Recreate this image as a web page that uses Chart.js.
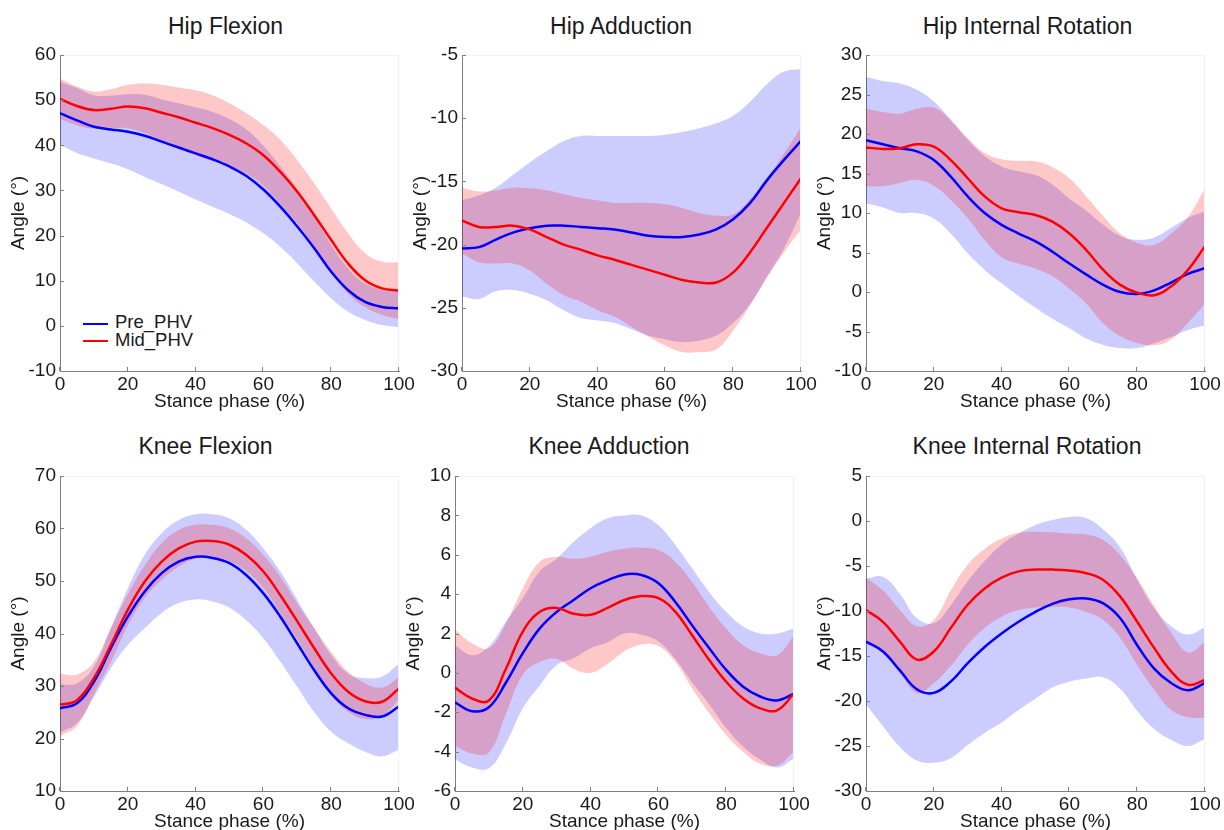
<!DOCTYPE html>
<html>
<head>
<meta charset="utf-8">
<script src="https://cdn.jsdelivr.net/npm/chart.js@4"></script>
<style>
  body { margin: 0; background: #fff; width: 1224px; height: 830px; overflow: hidden; position: relative;
         font-family: 'Liberation Sans', Arial, sans-serif; color: #1a1a1a; }
  canvas { position: absolute; }
  .ttl { position: absolute; font-size: 23px; line-height: 23px; white-space: nowrap; transform: translateX(-50%); }
  .leg { position: absolute; font-size: 18.5px; line-height: 18.5px; white-space: nowrap; }
  .legline { position: absolute; width: 25px; height: 2px; }
</style>
</head>
<body>
<div class="leg" style="left:115px;top:312.6px">Pre_PHV</div>
<div class="leg" style="left:115px;top:331.1px">Mid_PHV</div>
<div class="legline" style="left:83px;top:322.5px;background:#0000ff"></div>
<div class="legline" style="left:83px;top:339.5px;background:#ff0000"></div>
<script>
// stance phase samples (%)
const stance = [0, 5, 10, 15, 20, 25, 30, 35, 40, 45, 50, 55, 60, 65, 70, 75, 80, 85, 90, 95, 100];
const groups = ['Pre_PHV', 'Mid_PHV'];

const titles = ['Hip Flexion', 'Hip Adduction', 'Hip Internal Rotation',
                'Knee Flexion', 'Knee Adduction', 'Knee Internal Rotation'];

// y tick labels per panel
const hipFlexTicks = [-10, 0, 10, 20, 30, 40, 50, 60];
const hipAddTicks = [-30, -25, -20, -15, -10, -5];
const hipRotTicks = [-10, -5, 0, 5, 10, 15, 20, 25, 30];
const kneeFlexTicks = [10, 20, 30, 40, 50, 60, 70];
const kneeAddTicks = [-6, -4, -2, 0, 2, 4, 6, 8, 10];
const kneeRotTicks = [-30, -25, -20, -15, -10, -5, 0, 5];
const xTicks = [0, 20, 40, 60, 80, 100];

// Hip Flexion (mean, SD)
const hipFlexPreMean = [47.1, 45.5, 44.1, 43.5, 43.0, 42.1, 40.8, 39.5, 38.2, 36.9, 35.3, 33.2, 30.2, 26.4, 22.0, 17.2, 12.0, 7.9, 5.3, 4.2, 3.9];
const hipFlexPreSD   = [7.0, 7.2, 7.0, 7.5, 8.3, 9.1, 9.4, 9.8, 10.2, 10.5, 10.5, 10.3, 9.7, 8.9, 8.2, 7.4, 5.9, 4.8, 4.0, 4.0, 4.2];
const hipFlexMidMean = [50.3, 48.7, 47.8, 48.1, 48.6, 48.2, 47.2, 46.2, 45.0, 43.8, 42.3, 40.4, 37.8, 34.1, 29.7, 24.5, 19.0, 13.8, 10.1, 8.3, 7.8];
const hipFlexMidSD   = [4.5, 4.3, 4.1, 4.3, 4.8, 5.5, 6.2, 6.6, 7.2, 7.3, 7.0, 6.7, 6.7, 7.1, 7.0, 7.1, 7.0, 6.7, 6.0, 5.9, 6.3];

// Hip Adduction
const hipAddPreMean = [-20.3, -20.2, -19.6, -19.05, -18.7, -18.5, -18.5, -18.6, -18.7, -18.8, -19.05, -19.3, -19.4, -19.4, -19.2, -18.8, -18.0, -16.7, -14.9, -13.3, -11.8];
const hipAddPreSD   = [3.8, 4.1, 4.1, 4.55, 5.2, 5.9, 6.7, 7.2, 7.3, 7.4, 7.65, 7.9, 8.1, 8.3, 8.4, 8.4, 8.2, 8.0, 7.6, 7.0, 5.7];
const hipAddMidMean = [-18.1, -18.6, -18.6, -18.5, -18.8, -19.4, -20.0, -20.4, -20.85, -21.2, -21.6, -22.0, -22.4, -22.8, -23.0, -23.0, -22.2, -20.6, -18.65, -16.7, -14.75];
const hipAddMidSD   = [2.6, 2.8, 2.9, 3.0, 3.25, 3.7, 4.0, 4.1, 4.35, 4.5, 4.9, 5.3, 5.6, 5.7, 5.5, 5.3, 4.6, 4.2, 3.95, 3.9, 4.05];

// Hip Internal Rotation
const hipRotPreMean = [19.2, 18.7, 18.2, 17.8, 16.7, 14.6, 12.1, 10.0, 8.5, 7.4, 6.4, 5.1, 3.6, 2.2, 0.9, 0.0, -0.25, 0.2, 1.2, 2.3, 3.0];
const hipRotPreSD   = [8.0, 8.0, 8.2, 7.8, 7.4, 7.2, 7.2, 7.2, 7.4, 7.9, 8.4, 8.5, 8.2, 8.1, 7.6, 7.1, 6.85, 6.7, 6.9, 7.1, 7.2];
const hipRotMidMean = [18.3, 18.1, 18.2, 18.7, 18.4, 16.7, 14.4, 12.1, 10.6, 10.1, 9.75, 8.9, 7.4, 5.3, 2.8, 0.9, -0.1, -0.4, 0.7, 2.8, 5.8];
const hipRotMidSD   = [4.9, 4.7, 4.4, 4.5, 4.95, 5.05, 5.05, 5.5, 6.2, 6.5, 6.8, 6.9, 7.0, 6.8, 6.8, 6.5, 6.35, 6.35, 6.7, 6.7, 7.3];

// Knee Flexion
const kneeFlexPreMean = [25.75, 26.7, 30.8, 37.2, 43.2, 48.0, 51.5, 53.7, 54.6, 54.4, 53.4, 51.1, 47.65, 43.2, 38.1, 33.0, 28.6, 25.75, 24.5, 24.2, 26.1];
const kneeFlexPreSD   = [4.6, 3.8, 2.9, 3.8, 5.4, 7.0, 7.6, 7.9, 8.1, 8.3, 8.5, 8.6, 8.55, 8.6, 8.3, 8.0, 7.3, 6.65, 7.0, 7.6, 8.2];
const kneeFlexMidMean = [26.4, 27.3, 31.5, 37.8, 44.5, 49.9, 53.7, 56.2, 57.5, 57.6, 56.9, 54.95, 51.8, 47.3, 42.3, 37.2, 32.4, 28.9, 27.1, 27.0, 29.55];
const kneeFlexMidSD   = [5.9, 4.9, 3.1, 3.2, 3.0, 3.1, 3.5, 3.5, 3.2, 3.1, 3.1, 3.15, 3.15, 3.5, 3.4, 3.8, 4.1, 3.8, 3.4, 2.7, 2.1];

// Knee Adduction
const kneeAddPreMean = [-1.5, -1.95, -1.75, -0.5, 1.0, 2.26, 3.1, 3.7, 4.3, 4.7, 5.0, 4.97, 4.55, 3.6, 2.4, 1.25, 0.15, -0.7, -1.2, -1.4, -1.05];
const kneeAddPreSD   = [2.9, 2.85, 3.1, 3.1, 2.8, 2.9, 2.7, 2.96, 3.05, 3.15, 3.0, 3.03, 2.95, 2.9, 2.9, 2.85, 2.95, 3.05, 3.2, 3.4, 3.3];
const kneeAddMidMean = [-0.75, -1.3, -1.4, 0.2, 2.1, 3.1, 3.3, 3.0, 2.95, 3.3, 3.7, 3.9, 3.8, 3.1, 1.9, 0.65, -0.45, -1.3, -1.8, -1.9, -1.05];
const kneeAddMidSD   = [2.95, 2.8, 2.65, 2.3, 2.2, 2.55, 2.6, 2.8, 2.95, 2.85, 2.6, 2.46, 2.44, 2.55, 2.7, 2.7, 2.7, 2.7, 2.8, 2.8, 2.95];

// Knee Internal Rotation
const kneeRotPreMean = [-13.4, -14.5, -16.6, -18.7, -19.1, -17.85, -15.8, -14.0, -12.5, -11.2, -10.1, -9.2, -8.7, -8.6, -9.15, -10.8, -13.8, -16.4, -18.0, -18.8, -18.0];
const kneeRotPreSD   = [7.0, 8.3, 8.5, 7.9, 7.75, 8.5, 9.1, 9.55, 9.9, 9.8, 9.65, 9.3, 9.15, 8.9, 8.2, 7.85, 7.3, 6.7, 6.3, 6.2, 6.2];
const kneeRotMidMean = [-9.9, -11.2, -13.4, -15.4, -14.5, -11.9, -9.3, -7.5, -6.3, -5.6, -5.4, -5.4, -5.5, -5.8, -6.55, -8.4, -11.2, -14.1, -16.7, -18.2, -17.65];
const kneeRotMidSD   = [3.6, 3.5, 3.5, 3.7, 3.5, 4.2, 4.45, 4.4, 4.35, 4.3, 4.2, 4.15, 4.1, 4.3, 4.45, 4.6, 4.8, 4.65, 4.3, 3.6, 4.2];

const panelData = [
  [hipFlexTicks, hipFlexPreMean, hipFlexPreSD, hipFlexMidMean, hipFlexMidSD],
  [hipAddTicks, hipAddPreMean, hipAddPreSD, hipAddMidMean, hipAddMidSD],
  [hipRotTicks, hipRotPreMean, hipRotPreSD, hipRotMidMean, hipRotMidSD],
  [kneeFlexTicks, kneeFlexPreMean, kneeFlexPreSD, kneeFlexMidMean, kneeFlexMidSD],
  [kneeAddTicks, kneeAddPreMean, kneeAddPreSD, kneeAddMidMean, kneeAddMidSD],
  [kneeRotTicks, kneeRotPreMean, kneeRotPreSD, kneeRotMidMean, kneeRotMidSD]
];

// placement: canvas left/top/height, title centre
const layoutPos = [
  { left: 2,   top: 0,   h: 416, tx: 225.5, ty: 15.3 },
  { left: 404, top: 0,   h: 416, tx: 621,   ty: 15.3 },
  { left: 808, top: 0,   h: 416, tx: 1027.5, ty: 15.3 },
  { left: 2,   top: 421, h: 415, tx: 205.5, ty: 435.3 },
  { left: 397, top: 421, h: 415, tx: 609,   ty: 435.3 },
  { left: 808, top: 421, h: 415, tx: 1027,  ty: 435.3 }
];

const FONT = "'Liberation Sans', Arial, sans-serif";
const AXIS = '#7f7f7f';

// inward tick marks + faint box, like the matlab axes
const inTicks = {
  id: 'inTicks',
  afterDraw(chart) {
    const { ctx, chartArea: a, scales: { x, y } } = chart;
    ctx.save();
    ctx.strokeStyle = '#f2f2f2';
    ctx.lineWidth = 1;
    ctx.beginPath();
    ctx.moveTo(a.left, a.top + 0.5); ctx.lineTo(a.right, a.top + 0.5);
    ctx.moveTo(a.right - 0.5, a.top); ctx.lineTo(a.right - 0.5, a.bottom);
    ctx.stroke();
    ctx.strokeStyle = AXIS;
    ctx.beginPath();
    x.ticks.forEach(t => {
      const px = Math.round(x.getPixelForValue(t.value)) - 0.5;
      ctx.moveTo(px, a.bottom); ctx.lineTo(px, a.bottom - 4);
    });
    y.ticks.forEach(t => {
      const py = Math.round(y.getPixelForValue(t.value)) + 0.5;
      ctx.moveTo(a.left, py); ctx.lineTo(a.left + 4, py);
    });
    ctx.stroke();
    ctx.restore();
  }
};

function pts(vals) {
  return stance.map((s, i) => ({ x: s, y: vals[i] }));
}

function band(mean, sd, sign) {
  return mean.map((m, i) => m + sign * sd[i]);
}

function makePanel(idx) {
  const [ticks, preMean, preSD, midMean, midSD] = panelData[idx];
  const pos = layoutPos[idx];

  const t = document.createElement('div');
  t.className = 'ttl';
  t.style.left = pos.tx + 'px';
  t.style.top = pos.ty + 'px';
  t.textContent = titles[idx];
  document.body.appendChild(t);

  const cv = document.createElement('canvas');
  cv.width = 417; cv.height = pos.h;
  cv.style.left = pos.left + 'px';
  cv.style.top = pos.top + 'px';
  document.body.appendChild(cv);

  const bandStyle = { borderWidth: 0, pointRadius: 0, tension: 0.4 };
  const lineStyle = { borderWidth: 2.5, pointRadius: 0, fill: false, tension: 0.4 };
  new Chart(cv.getContext('2d'), {
    type: 'line',
    data: {
      datasets: [
        { label: 'preUp', data: pts(band(preMean, preSD, 1)), fill: false, order: 3, ...bandStyle },
        { label: 'preLo', data: pts(band(preMean, preSD, -1)), fill: '-1', backgroundColor: 'rgba(0,0,255,0.2)', order: 3, ...bandStyle },
        { label: 'midUp', data: pts(band(midMean, midSD, 1)), fill: false, order: 2, ...bandStyle },
        { label: 'midLo', data: pts(band(midMean, midSD, -1)), fill: '-1', backgroundColor: 'rgba(255,0,0,0.216)', order: 2, ...bandStyle },
        { label: groups[0], data: pts(preMean), borderColor: '#0000ff', order: 1, ...lineStyle },
        { label: groups[1], data: pts(midMean), borderColor: '#ff0000', order: 0, ...lineStyle }
      ]
    },
    options: {
      responsive: false,
      animation: false,
      events: [],
      layout: { padding: { top: 55, right: 20, left: 0, bottom: 0 } },
      plugins: {
        legend: { display: false },
        tooltip: { enabled: false },
        filler: { drawTime: 'beforeDatasetsDraw' }
      },
      scales: {
        x: {
          type: 'linear',
          min: xTicks[0], max: xTicks[xTicks.length - 1],
          afterFit(s) { s.height = 45; },
          grid: { drawOnChartArea: false, drawTicks: false },
          border: { display: true, color: AXIS, width: 1 },
          ticks: { stepSize: xTicks[1] - xTicks[0], padding: 2, color: '#1a1a1a', font: { family: FONT, size: 19 }, maxRotation: 0 },
          title: { display: true, text: 'Stance phase (%)', color: '#1a1a1a', font: { family: FONT, size: 19 }, padding: { top: 0, bottom: 2.6 } }
        },
        y: {
          min: ticks[0], max: ticks[ticks.length - 1],
          afterFit(s) { s.width = 58; },
          grid: { drawOnChartArea: false, drawTicks: false },
          border: { display: true, color: AXIS, width: 1 },
          ticks: { stepSize: ticks[1] - ticks[0], padding: 4, color: '#1a1a1a', font: { family: FONT, size: 19 } },
          title: { display: true, text: 'Angle (°)', color: '#1a1a1a', font: { family: FONT, size: 19 }, padding: { top: 5.6, bottom: 0 } }
        }
      }
    },
    plugins: [inTicks]
  });
}

for (let i = 0; i < 6; i++) makePanel(i);
</script>
</body>
</html>
